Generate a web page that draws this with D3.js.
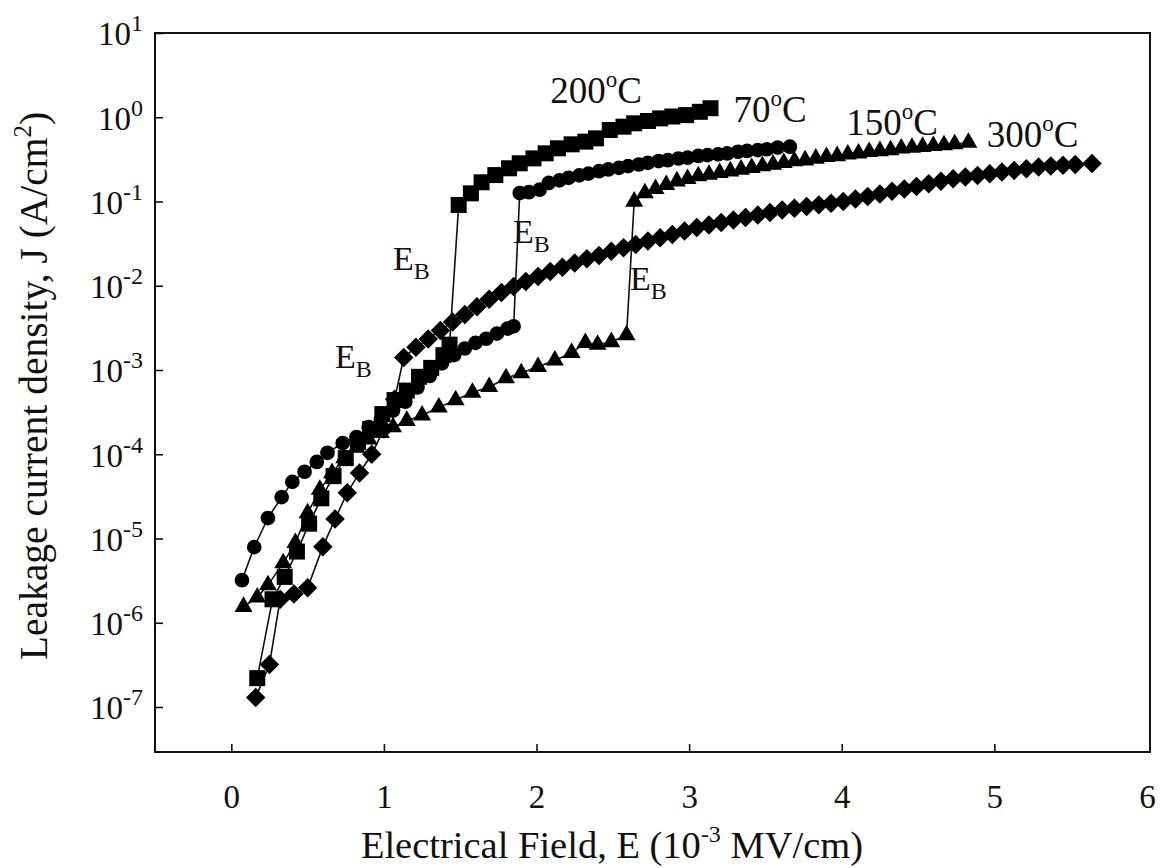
<!DOCTYPE html>
<html>
<head>
<meta charset="utf-8">
<script src="https://cdn.jsdelivr.net/npm/d3@7"></script>
<style>
  body { margin: 0; background: #fff; }
  text { font-family: "Liberation Serif", "Times New Roman", serif; fill: #111; }
</style>
</head>
<body>
<svg id="chart"></svg>
<script>
// 200 C (squares)
const e200 = [0.17, 0.27, 0.35, 0.43, 0.51, 0.59, 0.67, 0.75, 0.83, 0.91,
  0.99, 1.07, 1.15, 1.23, 1.31, 1.39, 1.43,
  1.49, 1.57, 1.64, 1.73, 1.82, 1.89, 1.98, 2.06, 2.14, 2.23,
  2.32, 2.39, 2.48, 2.57, 2.64, 2.73, 2.81, 2.89, 2.98, 3.07, 3.14];
const j200 = [2.2e-7, 1.9e-6, 3.5e-6, 7e-6, 1.5e-5, 3e-5, 5.5e-5, 9e-5, 1.4e-4, 2.0e-4,
  3.0e-4, 4.4e-4, 5.7e-4, 8.3e-4, 1.06e-3, 1.5e-3, 2.0e-3,
  0.091, 0.125, 0.169, 0.206, 0.248, 0.284, 0.325, 0.373, 0.428, 0.477,
  0.513, 0.562, 0.706, 0.773, 0.847, 0.902, 0.97, 1.02, 1.06, 1.16, 1.28];

// 70 C (circles)
const e70 = [0.07, 0.15, 0.24, 0.33, 0.40, 0.48, 0.56, 0.63, 0.73, 0.82,
  0.90, 0.98, 1.06, 1.14, 1.22, 1.30, 1.38, 1.46, 1.53, 1.60,
  1.67, 1.74, 1.81, 1.85,
  1.89, 1.95, 2.02, 2.08, 2.15, 2.21, 2.28, 2.34, 2.41, 2.47,
  2.54, 2.60, 2.67, 2.73, 2.80, 2.86, 2.93, 2.99, 3.06, 3.12,
  3.19, 3.25, 3.32, 3.38, 3.45, 3.51, 3.58, 3.66];
const j70 = [3.2e-6, 7.9e-6, 1.75e-5, 3.1e-5, 4.7e-5, 6.2e-5, 8.1e-5, 1.04e-4, 1.36e-4, 1.6e-4,
  2.1e-4, 2.6e-4, 3.3e-4, 4.2e-4, 6.2e-4, 8.5e-4, 1.2e-3, 1.5e-3, 1.8e-3, 2.1e-3,
  2.35e-3, 2.7e-3, 3.1e-3, 3.3e-3,
  0.126, 0.129, 0.138, 0.166, 0.178, 0.191, 0.204, 0.214, 0.229, 0.240,
  0.251, 0.263, 0.275, 0.288, 0.302, 0.309, 0.324, 0.331, 0.347, 0.355,
  0.363, 0.372, 0.389, 0.398, 0.407, 0.417, 0.437, 0.447];

// 150 C (triangles)
const e150 = [0.08, 0.17, 0.24, 0.34, 0.42, 0.50, 0.58, 0.66, 0.74, 0.82,
  0.90, 0.98, 1.06, 1.15, 1.25, 1.36, 1.47, 1.58, 1.69, 1.80,
  1.90, 2.01, 2.12, 2.23, 2.32, 2.40, 2.49, 2.59,
  2.64, 2.71, 2.78, 2.85, 2.92, 2.99, 3.06, 3.13, 3.20, 3.27,
  3.34, 3.41, 3.48, 3.55, 3.62, 3.69, 3.76, 3.83, 3.90, 3.97,
  4.04, 4.11, 4.18, 4.25, 4.32, 4.39, 4.46, 4.53, 4.60, 4.67,
  4.74, 4.83];
const j150 = [1.55e-6, 2.0e-6, 2.8e-6, 5.1e-6, 8.9e-6, 2.0e-5, 3.8e-5, 6.0e-5, 9.0e-5, 1.2e-4,
  1.5e-4, 1.8e-4, 2.1e-4, 2.5e-4, 2.9e-4, 3.6e-4, 4.4e-4, 5.4e-4, 6.3e-4, 8.0e-4,
  9.2e-4, 1.09e-3, 1.3e-3, 1.6e-3, 2.1e-3, 2.0e-3, 2.15e-3, 2.6e-3,
  0.100, 0.126, 0.141, 0.158, 0.174, 0.186, 0.200, 0.209, 0.219, 0.229,
  0.240, 0.251, 0.263, 0.275, 0.288, 0.302, 0.309, 0.324, 0.339, 0.347,
  0.363, 0.372, 0.389, 0.398, 0.407, 0.427, 0.437, 0.447, 0.457, 0.468,
  0.479, 0.501];

// 300 C (diamonds)
const e300 = [0.16, 0.25, 0.32, 0.41, 0.50, 0.60, 0.68, 0.76, 0.84, 0.92, 1.00, 1.07,
  1.13, 1.21, 1.29, 1.37, 1.45, 1.53, 1.61, 1.69, 1.77, 1.85,
  1.93, 2.01, 2.09, 2.17, 2.25, 2.33, 2.41, 2.49, 2.57, 2.65,
  2.73, 2.81, 2.89, 2.97, 3.05, 3.13, 3.21, 3.29, 3.37, 3.45,
  3.53, 3.61, 3.69, 3.77, 3.85, 3.93, 4.01, 4.09, 4.17, 4.25,
  4.33, 4.41, 4.49, 4.57, 4.65, 4.73, 4.81, 4.89, 4.97, 5.05,
  5.13, 5.21, 5.29, 5.37, 5.45, 5.53, 5.64];
const j300 = [1.3e-7, 3.2e-7, 1.9e-6, 2.2e-6, 2.6e-6, 8.0e-6, 1.7e-5, 3.5e-5, 6.0e-5, 1.0e-4, 2.0e-4, 4.5e-4,
  1.41e-3, 1.86e-3, 2.34e-3, 2.95e-3, 3.72e-3, 4.57e-3, 5.62e-3, 6.92e-3, 8.32e-3, 9.77e-3,
  0.0112, 0.0129, 0.0148, 0.0166, 0.0186, 0.0209, 0.0229, 0.0257, 0.0282, 0.0309,
  0.0339, 0.0372, 0.0407, 0.0447, 0.0490, 0.0525, 0.0562, 0.0603, 0.0646, 0.0692,
  0.0741, 0.0794, 0.0832, 0.0871, 0.0912, 0.0955, 0.100, 0.107, 0.115, 0.123,
  0.132, 0.141, 0.151, 0.162, 0.174, 0.186, 0.195, 0.204, 0.214, 0.224,
  0.234, 0.245, 0.257, 0.263, 0.269, 0.275, 0.282];

const xTicks = [0, 1, 2, 3, 4, 5, 6];
const yExponents = [-7, -6, -5, -4, -3, -2, -1, 0, 1];

// annotation texts, placed in data coordinates
const labelText = ["200", "70", "150", "300"];
const labelE = [2.09, 3.29, 4.03, 4.95];
const labelJ = [1.48, 0.879, 0.615, 0.443];
const ebE = [1.06, 1.846, 2.613, 0.68];
const ebJ = [0.0154, 0.0321, 8.9e-3, 1.06e-3];

const margin = { top: 33, right: 19, bottom: 116, left: 155 };
const width = 1169, height = 868;
const w = width - margin.left - margin.right;
const h = height - margin.top - margin.bottom;

const svg = d3.select("#chart").attr("width", width).attr("height", height);
const inner = svg.append("g").attr("transform", `translate(${margin.left},${margin.top})`);

const x = d3.scaleLinear().domain([-0.5, 6.02]).range([0, w]);
const y = d3.scaleLog().domain([Math.pow(10, -7.534), 10]).range([h, 0]);

// axes (ticks pointing inwards)
const gX = inner.append("g")
  .attr("transform", `translate(0,${h})`)
  .call(d3.axisBottom(x).tickValues(xTicks).tickSizeInner(-8).tickSizeOuter(0).tickPadding(56).tickFormat(d3.format("d")));
gX.select(".domain").remove();
gX.selectAll(".tick line").attr("stroke", "#111").attr("stroke-width", 1.6)
  .filter(d => d === 6).remove();
gX.selectAll(".tick text").attr("font-size", 33).attr("fill", "#111").attr("dy", 0)
  .style("font-family", "'Liberation Serif', serif");

const gY = inner.append("g")
  .call(d3.axisLeft(y).tickValues(yExponents.map(e => Math.pow(10, e))).tickSizeInner(-8).tickSizeOuter(0).tickPadding(12).tickFormat(""));
gY.select(".domain").remove();
gY.selectAll(".tick line").attr("stroke", "#111").attr("stroke-width", 1.6);
gY.selectAll(".tick text")
  .attr("font-size", 33).attr("fill", "#111").attr("dy", "0.36em")
  .style("font-family", "'Liberation Serif', serif")
  .each(function(d) {
    const t = d3.select(this);
    t.append("tspan").text("10");
    t.append("tspan").attr("font-size", 24).attr("dy", -14).text(String(Math.round(Math.log10(d))));
  });

// frame
inner.append("rect")
  .attr("width", w).attr("height", h)
  .attr("fill", "none").attr("stroke", "#111").attr("stroke-width", 2);

// axis labels
const xl = svg.append("text")
  .attr("x", 612).attr("y", 858)
  .attr("text-anchor", "middle").attr("font-size", 38.5);
xl.append("tspan").text("Electrical Field, E (10");
xl.append("tspan").attr("font-size", 24).attr("dy", -16).text("-3");
xl.append("tspan").attr("dy", 16).text(" MV/cm)");

const yl = svg.append("text")
  .attr("transform", "translate(47,386) rotate(-90)")
  .attr("text-anchor", "middle").attr("font-size", 39.5);
yl.append("tspan").text("Leakage current density, J (A/cm");
yl.append("tspan").attr("font-size", 25).attr("dy", -16).text("2");
yl.append("tspan").attr("dy", 16).text(")");

// series
const series = [
  { e: e300, j: j300, shape: "diamond" },
  { e: e150, j: j150, shape: "triangle" },
  { e: e70, j: j70, shape: "circle" },
  { e: e200, j: j200, shape: "square" }
];

const diamond = {
  draw(ctx, size) {
    const r = Math.sqrt(size / 2);
    ctx.moveTo(0, -r);
    ctx.lineTo(r, 0);
    ctx.lineTo(0, r);
    ctx.lineTo(-r, 0);
    ctx.closePath();
  }
};
const symbols = {
  square: d3.symbol().type(d3.symbolSquare).size(256),
  circle: d3.symbol().type(d3.symbolCircle).size(170),
  triangle: d3.symbol().type(d3.symbolTriangle).size(140),
  diamond: d3.symbol().type(diamond).size(190)
};

const line = d3.line().x(d => x(d[0])).y(d => y(d[1]));

series.forEach(s => {
  const pts = s.e.map((e, i) => [e, s.j[i]]);
  const g = inner.append("g").attr("class", "series");
  g.append("path")
    .attr("d", line(pts))
    .attr("fill", "none")
    .attr("stroke", "#111")
    .attr("stroke-width", 1.6);
  g.selectAll("path.mark")
    .data(pts)
    .enter()
    .append("path")
    .attr("class", "mark")
    .attr("transform", d => `translate(${x(d[0])},${y(d[1])})`)
    .attr("d", symbols[s.shape])
    .attr("fill", "#000");
});

// temperature labels
labelText.forEach((t, i) => {
  const txt = inner.append("text")
    .attr("x", x(labelE[i])).attr("y", y(labelJ[i]))
    .attr("font-size", 37);
  txt.append("tspan").text(t);
  txt.append("tspan").attr("font-size", 23).attr("dy", -16).text("o");
  txt.append("tspan").attr("dy", 16).text("C");
});

// breakdown labels
ebE.forEach((e, i) => {
  const txt = inner.append("text")
    .attr("x", x(e)).attr("y", y(ebJ[i]))
    .attr("font-size", 34);
  txt.append("tspan").text("E");
  txt.append("tspan").attr("font-size", 24).attr("dy", 9).text("B");
});
</script>
</body>
</html>
